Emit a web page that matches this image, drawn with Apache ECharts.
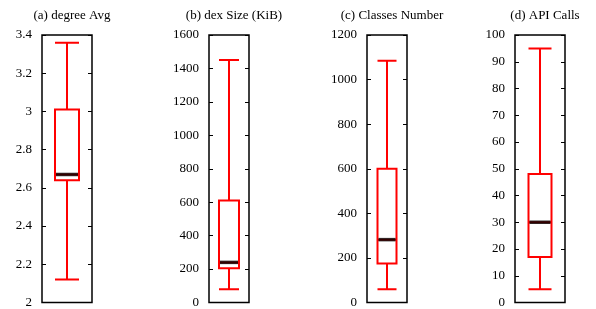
<!DOCTYPE html>
<html>
<head>
<meta charset="utf-8">
<script src="https://cdn.jsdelivr.net/npm/echarts@6/dist/echarts.min.js"></script>
<style>
  html, body { margin: 0; padding: 0; background: #fff; }
  #chart { width: 596px; height: 309px; }
</style>
</head>
<body>
<div id="chart"></div>
<script>
// panel titles
const titles = ["(a) degree Avg", "(b) dex Size (KiB)", "(c) Classes Number", "(d) API Calls"];

// box stats: [min, Q1, median, Q3, max]
const degreeAvg = [2.12, 2.64, 2.67, 3.01, 3.36];
const dexSize = [80, 205, 240, 610, 1450];
const classesNumber = [60, 175, 282, 600, 1085];
const apiCalls = [5, 17, 30, 48, 95];

// axis ranges
const yMin = [2, 0, 0, 0];
const yMax = [3.4, 1600, 1200, 100];
const yStep = [0.2, 200, 200, 10];

const boxes = [degreeAvg, dexSize, classesNumber, apiCalls];

// layout per panel (pixels)
const frames = [
  { left: 42, width: 50, box: 24 },
  { left: 209, width: 40, box: 20 },
  { left: 367, width: 40, box: 19 },
  { left: 515, width: 50, box: 23 }
];

const FONT = "'Liberation Serif', 'DejaVu Serif', serif";

const chart = echarts.init(document.getElementById("chart"));

const grid = [];
const xAxis = [];
const yAxis = [];
const series = [];
const title = [];

frames.forEach((f, i) => {
  grid.push({
    left: f.left,
    width: f.width,
    top: 35,
    height: 268,
    show: true,
    borderColor: "#000",
    borderWidth: 1.5,
    backgroundColor: "transparent"
  });

  title.push({
    text: titles[i],
    left: f.left + f.width / 2,
    textAlign: "center",
    top: 4,
    textStyle: { fontFamily: FONT, fontSize: 13, fontWeight: "normal", color: "#000" }
  });

  xAxis.push({
    type: "category",
    gridIndex: i,
    data: [titles[i]],
    axisLine: { show: false },
    axisTick: { show: false },
    axisLabel: { show: false },
    splitLine: { show: false }
  });

  const yBase = {
    type: "value",
    gridIndex: i,
    min: yMin[i],
    max: yMax[i],
    interval: yStep[i],
    axisLine: { show: false },
    axisTick: { show: true, inside: true, length: 4, lineStyle: { color: "#000", width: 1 } },
    splitLine: { show: false }
  };

  yAxis.push(Object.assign({}, yBase, {
    position: "left",
    axisLabel: {
      fontFamily: FONT,
      fontSize: 13,
      color: "#000",
      margin: 10,
      formatter: (v) => String(Math.round(v * 100) / 100)
    }
  }));
  yAxis.push(Object.assign({}, yBase, {
    position: "right",
    axisLabel: { show: false }
  }));

  series.push({
    type: "boxplot",
    xAxisIndex: i,
    yAxisIndex: i * 2,
    boxWidth: [f.box, f.box],
    silent: true,
    itemStyle: { color: "#fff", borderColor: "#ff0000", borderWidth: 2 },
    data: [boxes[i]]
  });

  // median drawn as a thick black bar
  series.push({
    type: "scatter",
    xAxisIndex: i,
    yAxisIndex: i * 2,
    symbol: "rect",
    symbolSize: [f.box - 2, 3.5],
    silent: true,
    itemStyle: { color: "#000" },
    data: [[0, boxes[i][2]]],
    z: 5
  });
});

chart.setOption({
  animation: false,
  backgroundColor: "#fff",
  title,
  grid,
  xAxis,
  yAxis,
  series
});
</script>
</body>
</html>
